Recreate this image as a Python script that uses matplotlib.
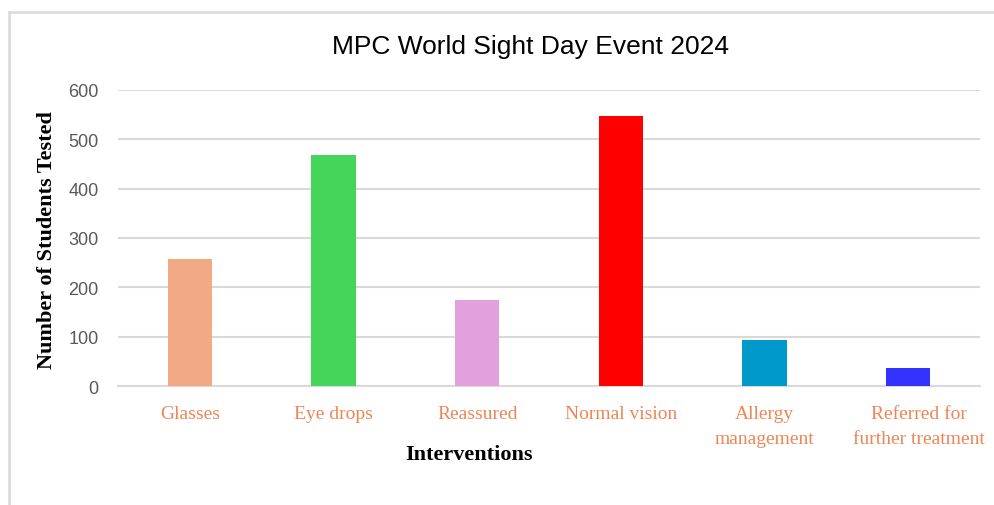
import matplotlib
matplotlib.use("Agg")
import matplotlib.pyplot as plt
from matplotlib.lines import Line2D
from matplotlib.transforms import ScaledTranslation

categories = ["Glasses", "Eye drops", "Reassured", "Normal vision",
              "Allergy\nmanagement", "Referred for\nfurther treatment"]
values = [258, 469, 175, 548, 94, 37]
colors = ["#F2A985", "#46D55B", "#E2A0DC", "#FF0000", "#0099CC", "#3333FF"]
yticks = [0, 100, 200, 300, 400, 500, 600]

W, H = 994, 506
fig = plt.figure(figsize=(W / 100, H / 100), dpi=100)
fig.patch.set_facecolor("white")

# outer chart frame (top and left edges visible)
fy = 1 - 13 / H
fx = 8.5 / W
fig.lines.append(Line2D([fx, 1.0], [fy, fy], transform=fig.transFigure,
                        color="#D9D9D9", linewidth=1.8))
fig.lines.append(Line2D([fx, fx], [0.0, fy], transform=fig.transFigure,
                        color="#D9D9D9", linewidth=1.8))

ax = fig.add_axes([118 / W, 1 - 387 / H, (980 - 118) / W, (387 - 91) / H])
x = list(range(len(categories)))
ax.bar(x, values, width=0.31, color=colors, zorder=3)
ax.set_xlim(-0.5, len(categories) - 0.5)
ax.set_ylim(0, 600)
ax.set_yticks(yticks)
ax.set_yticklabels([str(v) for v in yticks], fontfamily="Liberation Sans",
                   fontsize=13, color="#595959")
ax.set_xticks(x)
ax.set_xticklabels(categories, fontfamily="Liberation Serif", fontsize=14,
                   color="#EE8555", linespacing=1.6, va="top")
ax.tick_params(axis="both", length=0)
ax.tick_params(axis="y", pad=14)
ax.tick_params(axis="x", pad=14)
ax.grid(axis="y", color="#D9D9D9", linewidth=1.5, zorder=0)
for s in ["top", "right", "left"]:
    ax.spines[s].set_visible(False)
ax.spines["bottom"].set_color("#D9D9D9")
ax.spines["bottom"].set_linewidth(1.5)

# last label sits slightly right of its bar in the reference
last = ax.get_xticklabels()[-1]
last.set_transform(last.get_transform() + ScaledTranslation(0.11, 0, fig.dpi_scale_trans))

fig.text(531 / W, 1 - 47 / H, "MPC World Sight Day Event 2024",
         fontfamily="Liberation Sans", fontsize=19, color="black",
         ha="center", va="center")
fig.text(469 / W, 1 - 455 / H, "Interventions", fontfamily="Liberation Serif",
         fontsize=16, fontweight="bold", ha="center", va="center")
fig.text(47 / W, 1 - 240 / H, "Number of Students Tested",
         fontfamily="Liberation Serif", fontsize=16, fontweight="bold",
         rotation=90, ha="center", va="center")

fig.savefig("out.png", dpi=100, facecolor="white")
